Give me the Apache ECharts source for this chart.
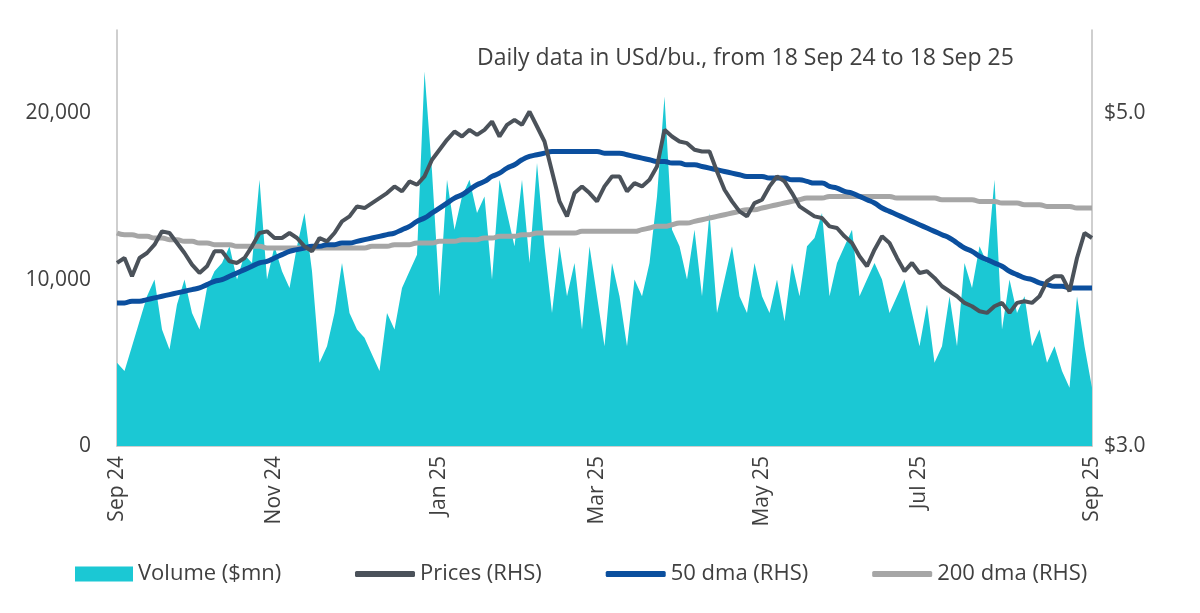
<!DOCTYPE html>
<html><head><meta charset="utf-8">
<script src="https://cdn.jsdelivr.net/npm/echarts@6/dist/echarts.min.js"></script>
<style>html,body{margin:0;padding:0;background:#fff}#c{width:1200px;height:613px}</style>
</head><body><div id="c"></div>
<script>
// Volume ($mn, thousands)
const volumeK = [5,4.5,6,7.5,9,10,7,5.8,8.5,10,8,7,9.5,10.5,11,12,10,11.5,11,16,10,12,10.5,9.5,12,14,10.5,5,6,8,11,8,7,6.5,5.5,4.5,8,7,9.5,10.5,11.5,22.5,16.5,9,16,13,15,16,14,15,10,16,14,12,16,11,17,12,8,12,9,11,7,12,9,6,11,9,6,10,9,11,15,21,13,12,10,13,9,14,8,10,12,9,8,11,9,8,10,7.5,11,9,12,12.5,14,9,11,12,13,9,10,11,10,8,9,10,8,6,8.5,5,6,9,6,11,9.5,12,11,16,7,10,8,9,6,7,5,6,4.5,3.5,9,6,3.5];
const prices = [4.10,4.13,4.02,4.13,4.16,4.21,4.29,4.28,4.22,4.16,4.09,4.04,4.08,4.17,4.17,4.11,4.10,4.13,4.20,4.28,4.29,4.25,4.25,4.28,4.25,4.20,4.17,4.25,4.23,4.28,4.35,4.38,4.44,4.43,4.46,4.49,4.52,4.56,4.53,4.59,4.57,4.62,4.72,4.78,4.84,4.89,4.86,4.90,4.87,4.90,4.95,4.86,4.93,4.96,4.93,5.01,4.92,4.83,4.65,4.47,4.38,4.52,4.56,4.52,4.47,4.56,4.62,4.62,4.53,4.58,4.56,4.60,4.68,4.90,4.86,4.83,4.82,4.78,4.77,4.77,4.65,4.54,4.47,4.41,4.38,4.46,4.48,4.56,4.62,4.59,4.52,4.44,4.41,4.38,4.37,4.32,4.31,4.26,4.22,4.14,4.08,4.18,4.26,4.22,4.13,4.05,4.10,4.04,4.05,4.01,3.96,3.93,3.90,3.86,3.84,3.81,3.80,3.84,3.86,3.80,3.86,3.87,3.86,3.90,3.99,4.02,4.02,3.93,4.13,4.28,4.25];
const dma50 = [3.86,3.86,3.87,3.87,3.88,3.89,3.90,3.91,3.92,3.93,3.94,3.95,3.97,3.99,4.00,4.02,4.04,4.06,4.08,4.10,4.11,4.13,4.15,4.17,4.18,4.19,4.20,4.20,4.21,4.21,4.22,4.22,4.23,4.24,4.25,4.26,4.27,4.28,4.30,4.32,4.35,4.37,4.40,4.43,4.46,4.49,4.51,4.54,4.57,4.59,4.62,4.64,4.67,4.69,4.72,4.74,4.75,4.76,4.77,4.77,4.77,4.77,4.77,4.77,4.77,4.76,4.76,4.76,4.75,4.74,4.73,4.72,4.71,4.71,4.70,4.70,4.69,4.69,4.68,4.67,4.66,4.65,4.64,4.63,4.62,4.62,4.62,4.61,4.61,4.61,4.60,4.60,4.59,4.58,4.58,4.56,4.55,4.53,4.52,4.50,4.48,4.46,4.43,4.41,4.39,4.37,4.35,4.33,4.31,4.29,4.27,4.25,4.22,4.19,4.17,4.14,4.12,4.10,4.08,4.05,4.03,4.01,4.00,3.98,3.97,3.96,3.96,3.95,3.95,3.95,3.95];
const dma200 = [4.28,4.27,4.27,4.26,4.26,4.25,4.25,4.24,4.24,4.23,4.23,4.22,4.22,4.21,4.21,4.21,4.20,4.20,4.20,4.20,4.19,4.19,4.19,4.19,4.19,4.19,4.19,4.19,4.19,4.19,4.19,4.19,4.19,4.19,4.20,4.20,4.20,4.21,4.21,4.21,4.22,4.22,4.22,4.23,4.23,4.23,4.24,4.24,4.24,4.25,4.25,4.26,4.26,4.26,4.27,4.27,4.28,4.28,4.28,4.28,4.28,4.28,4.29,4.29,4.29,4.29,4.29,4.29,4.29,4.29,4.30,4.31,4.32,4.32,4.33,4.34,4.34,4.35,4.36,4.37,4.38,4.39,4.40,4.41,4.42,4.42,4.43,4.44,4.45,4.46,4.47,4.48,4.49,4.49,4.49,4.50,4.50,4.50,4.50,4.50,4.50,4.50,4.50,4.50,4.49,4.49,4.49,4.49,4.49,4.49,4.48,4.48,4.48,4.48,4.48,4.47,4.47,4.47,4.46,4.46,4.46,4.45,4.45,4.45,4.44,4.44,4.44,4.44,4.43,4.43,4.43];
const leftTicks = [0, 10000, 20000];
const rightTicks = [3.0, 5.0];
const monthNames = ['Jan','Feb','Mar','Apr','May','Jun','Jul','Aug','Sep','Oct','Nov','Dec'];

const N = prices.length;
const start = Date.UTC(2024, 8, 18), end = Date.UTC(2025, 8, 18);
const dates = [];
for (let i = 0; i < N; i++) dates.push(new Date(start + (end - start) * i / (N - 1)));
const cats = dates.map(d => monthNames[d.getUTCMonth()] + ' ' + String(d.getUTCFullYear()).slice(2));
const showIdx = new Set([0, N - 1]);
for (let i = 1; i < N - 1; i++) {
  const d = dates[i], p = dates[i - 1], m = d.getUTCMonth();
  if ([10, 0, 2, 4, 6].includes(m) && d.getUTCDate() >= 15 && !(p.getUTCMonth() === m && p.getUTCDate() >= 15)) showIdx.add(i);
}
const volume = volumeK.map(v => v * 1000);
const txt = '#404040', font = 'Open Sans', fs = 21;
const legText = {fontSize: 22, color: txt, fontFamily: font};
const chart = echarts.init(document.getElementById('c'));
chart.setOption({
  animation: false,
  textStyle: {fontFamily: font},
  title: {text: 'Daily data in USd/bu., from 18 Sep 24 to 18 Sep 25', left: 472, top: 42,
    textStyle: {fontSize: 23, fontWeight: 'normal', color: txt, fontFamily: font}},
  grid: {left: 117, right: 108, top: 30, bottom: 167},
  legend: [
    {left: 70, top: 558, itemWidth: 58, itemHeight: 15, itemGap: 60, textStyle: legText,
      data: [{name: 'Volume ($mn)', icon: 'rect'}]},
    {left: 350, top: 558, itemWidth: 60, itemHeight: 6, itemGap: 64, textStyle: legText,
      data: [{name: 'Prices (RHS)', icon: 'roundRect'}, {name: '50 dma (RHS)', icon: 'roundRect'}, {name: '200 dma (RHS)', icon: 'roundRect'}]}
  ],
  xAxis: {type: 'category', data: cats, boundaryGap: false,
    axisLine: {lineStyle: {color: '#bfbfbf', width: 1.5}}, axisTick: {show: false},
    axisLabel: {rotate: 90, fontSize: fs, color: txt, margin: 10,
      interval: (i) => showIdx.has(i)}},
  yAxis: [
    {type: 'value', min: 0, max: 25000, interval: 10000, splitLine: {show: false},
      axisLine: {show: true, lineStyle: {color: '#bfbfbf', width: 1.5}}, axisTick: {show: false},
      axisLabel: {fontSize: fs, color: txt, margin: 26, showMaxLabel: false,
        formatter: v => leftTicks.includes(v) ? v.toLocaleString('en-US') : ''}},
    {type: 'value', min: 3, max: 5.5, interval: 2, splitLine: {show: false},
      axisLine: {show: true, lineStyle: {color: '#bfbfbf', width: 1.5}}, axisTick: {show: false},
      axisLabel: {fontSize: fs, color: txt, margin: 12, showMaxLabel: false,
        formatter: v => rightTicks.includes(v) ? '$' + v.toFixed(1) : ''}}
  ],
  series: [
    {name: 'Volume ($mn)', type: 'line', data: volume, yAxisIndex: 0, symbol: 'none',
      lineStyle: {width: 0}, areaStyle: {color: '#1bc8d4', opacity: 1}, itemStyle: {color: '#1bc8d4'}},
    {name: '200 dma (RHS)', type: 'line', data: dma200, yAxisIndex: 1, symbol: 'none', smooth: true,
      lineStyle: {width: 5, color: '#a6a6a6'}, itemStyle: {color: '#a6a6a6'}},
    {name: '50 dma (RHS)', type: 'line', data: dma50, yAxisIndex: 1, symbol: 'none', smooth: true,
      lineStyle: {width: 5, color: '#0b4f9e'}, itemStyle: {color: '#0b4f9e'}},
    {name: 'Prices (RHS)', type: 'line', data: prices, yAxisIndex: 1, symbol: 'none',
      lineStyle: {width: 4, color: '#4b525a'}, itemStyle: {color: '#4b525a'}}
  ]
});
</script></body></html>
